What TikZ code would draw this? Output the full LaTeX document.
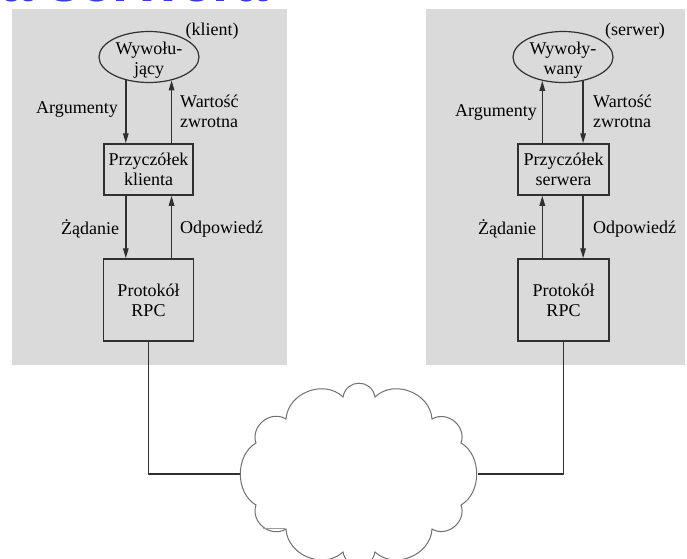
\documentclass[tikz,border=0pt]{standalone}
\usepackage{fontspec}
\setmainfont{Liberation Serif}
\newfontfamily\titlefont{Liberation Sans}
\usetikzlibrary{arrows.meta,shapes.geometric}
\definecolor{panelgray}{HTML}{DADADA}
\definecolor{linegray}{HTML}{303030}
\definecolor{cloudgray}{HTML}{707070}
\definecolor{titleblue}{HTML}{3C3CC8}
\tikzset{
  panel/.style={fill=panelgray},
  callee/.style={ellipse,draw=linegray,line width=1.2pt,minimum width=100pt,minimum height=51pt,inner sep=0pt},
  stubbox/.style={draw=linegray,line width=1.5pt,minimum width=90pt,minimum height=51pt,inner sep=0pt,align=center},
  rpcbox/.style={draw=linegray,line width=1.5pt,minimum width=91pt,minimum height=82pt,inner sep=0pt,align=center},
  lbl/.style={align=left,inner sep=2pt},
  arr/.style={draw=linegray,line width=1.4pt,-{Triangle[length=10pt,width=5.5pt]}},
  wire/.style={draw=linegray,line width=1.4pt},
  puffS/.style={bend left=80,looseness=1.5},
  puffM/.style={bend left=70,looseness=1.2},
  puffL/.style={bend left=65,looseness=1.1},
  puffB/.style={bend left=60,looseness=1.0},
}
\begin{document}
\begin{tikzpicture}[x=1pt,y=-1pt,font=\fontsize{18}{20}\selectfont]
\useasboundingbox (0,0) rectangle (687,558);
% cut-off title
\begin{scope}
  \clip (0,0) rectangle (687,9);
  \node[anchor=base east,inner sep=0pt,text=titleblue,font=\titlefont\bfseries\fontsize{58}{60}\selectfont] (title) at (268,1.2) {a serwera};
\end{scope}
% panels
\fill[panel] (12,9) rectangle (287,365);
\fill[panel] (426,9) rectangle (685,365);

% ---- client side
\node[callee] (cle) at (149,57) {};
\node[align=center,inner sep=0pt] (clt) at (149,60) {Wywołu-\\jący};
\node (clk) at (212,31) {(klient)};
\node[stubbox,minimum width=89pt] (cstub) at (148.5,169.5) {Przyczółek\\klienta};
\node[rpcbox,minimum width=90pt] (crpc) at (148.5,300) {Protokół\\RPC};

\draw[arr] (cle.-135.5) -- (cle.-135.5 |- cstub.north);
\draw[arr] (cstub.north -| cle.-46.1) -- (cle.-46.1);
\draw[arr] (cstub.south -| cle.-135.5) -- (crpc.north -| cle.-135.5);
\draw[arr] (crpc.north -| cle.-46.1) -- (cstub.south -| cle.-46.1);

\node[lbl] (carg) at (77,109) {Argumenty};
\node[lbl,anchor=west] (cwart) at (178,111) {Wartość\\zwrotna};
\node[lbl] (czad) at (90,229) {Żądanie};
\node[lbl,anchor=west] (codp) at (178,229) {Odpowiedź};

% ---- server side
\node[callee] (sre) at (563,57) {};
\node[align=center,inner sep=0pt] (srt) at (563,60) {Wywoły-\\wany};
\node (srk) at (635,31) {(serwer)};
\node[stubbox,minimum width=91pt] (sstub) at (563.5,169.5) {Przyczółek\\serwera};
\node[rpcbox] (srpc) at (563.5,300) {Protokół\\RPC};

\draw[arr] (sstub.north -| sre.-131.1) -- (sre.-131.1);
\draw[arr] (sre.-50.6) -- (sre.-50.6 |- sstub.north);
\draw[arr] (srpc.north -| sre.-131.1) -- (sstub.south -| sre.-131.1);
\draw[arr] (sstub.south -| sre.-50.6) -- (srpc.north -| sre.-50.6);

\node[lbl] (sarg) at (496,112) {Argumenty};
\node[lbl,anchor=west] (swart) at (591,111) {Wartość\\zwrotna};
\node[lbl] (szad) at (507,229) {Żądanie};
\node[lbl,anchor=west] (sodp) at (591,229) {Odpowiedź};

% ---- network cloud
\coordinate (cw) at (240,474);
\coordinate (ce) at (478,474);
\draw[wire] (crpc.south) |- (cw);
\draw[wire] (srpc.south) |- (ce);
\draw[draw=cloudgray,fill=white,line width=1pt]
  (256,443) to[puffM] (286,419) to[puffL] (343,397) to[puffS] (375,397)
  to[puffL] (432,419) to[puffM] (461,443) to[puffB] (461,505)
  to[puffM] (432,529) to[puffL] (375,552) to[puffS] (343,552)
  to[puffL] (286,529) to[puffM] (256,505) to[puffB] cycle;
\coordinate (stray1) at (263,528);
\coordinate (stray2) at (285,528);
\draw[draw=cloudgray!70,line width=0.8pt] (stray1) -- (stray2);
\end{tikzpicture}
\end{document}
